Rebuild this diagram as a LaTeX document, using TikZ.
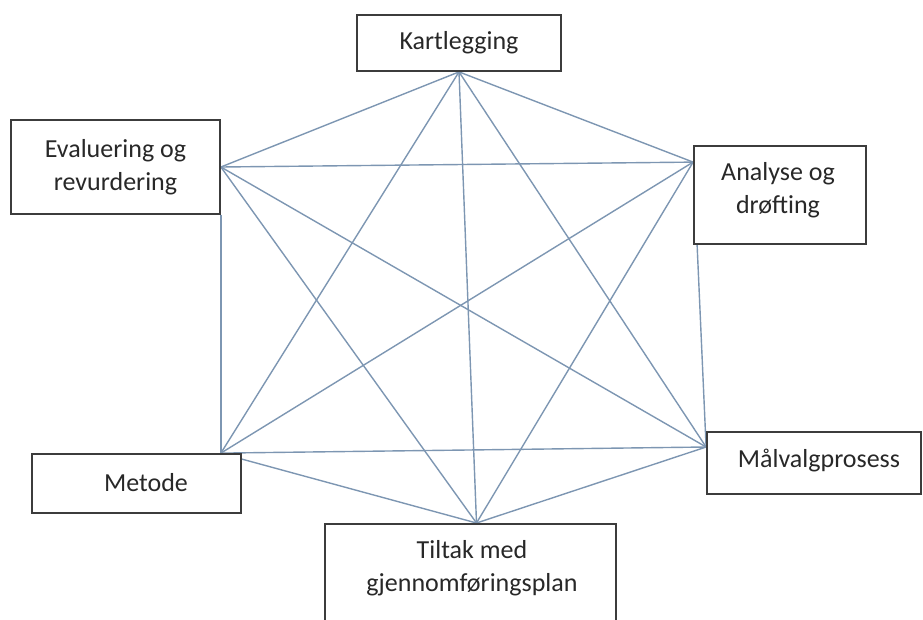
\documentclass[tikz,border=0pt]{standalone}
\usepackage{fontspec}
\setmainfont{Carlito}
\usetikzlibrary{backgrounds}
\definecolor{edgeblue}{RGB}{125,150,178}
\definecolor{boxgray}{RGB}{60,60,60}
\definecolor{txtgray}{RGB}{40,40,40}
\tikzset{
  box/.style={draw=boxgray, line width=1.8pt, fill=white, inner sep=0pt, align=center,
    text=txtgray, font=\fontsize{26pt}{33pt}\selectfont},
  boxtext/.style={inner sep=0pt, align=center, text=txtgray, font=\fontsize{26pt}{33pt}\selectfont},
  link/.style={draw=edgeblue, line width=1.4pt}
}
\begin{document}
\begin{tikzpicture}[x=1pt,y=-1pt]
\useasboundingbox (0,0) rectangle (923,619);
% boxes
\node[box, minimum width=204pt, minimum height=56pt] (k) at (459,43) {Kartlegging};
\node[box, minimum width=209pt, minimum height=94pt] (e) at (115.5,167) {Evaluering og\\revurdering};
\node[box, minimum width=172pt, minimum height=98pt] (a) at (780,195) {};
\node[boxtext] (at) at (778,190) {Analyse og\\drøfting};
\node[box, minimum width=214pt, minimum height=62pt] (mv) at (814,463) {};
\node[boxtext] (mvt) at (819,461) {Målvalgprosess};
\node[box, minimum width=209pt, minimum height=59pt] (me) at (136.5,483.5) {};
\node[boxtext] (met) at (146,483) {Metode};
\node[box, minimum width=291pt, minimum height=130pt, anchor=north] (t) at (470.5,523) {};
\node[boxtext] (tt) at (472,568) {Tiltak med\\gjennomføringsplan};
% attachment points
\coordinate (K) at (k.south);
\coordinate (E) at (e.east);
\coordinate (A) at ([yshift=-17pt]a.north west);
\coordinate (MV) at ([yshift=16pt]mv.west);
\coordinate (ME) at ([xshift=-21pt]me.north east);
\coordinate (T) at ([xshift=6pt]t.north);
\begin{scope}[on background layer]
\draw[link] (K) -- (E);
\draw[link] (K) -- (A);
\draw[link] (K) -- (MV);
\draw[link] (K) -- (ME);
\draw[link] (K) -- (T);
\draw[link] (E) -- (A);
\draw[link] (E) -- (MV);
\draw[link] (E) -- (T);
\draw[link] (e.south east) -- (ME);
\draw[link] (A) -- (ME);
\draw[link] (A) -- (T);
\draw[link] ([xshift=4pt]a.south west) -- (MV);
\draw[link] (MV) -- (ME);
\draw[link] (MV) -- (T);
\draw[link] ([yshift=-6pt]me.north east) -- (T);
\end{scope}
\end{tikzpicture}
\end{document}
